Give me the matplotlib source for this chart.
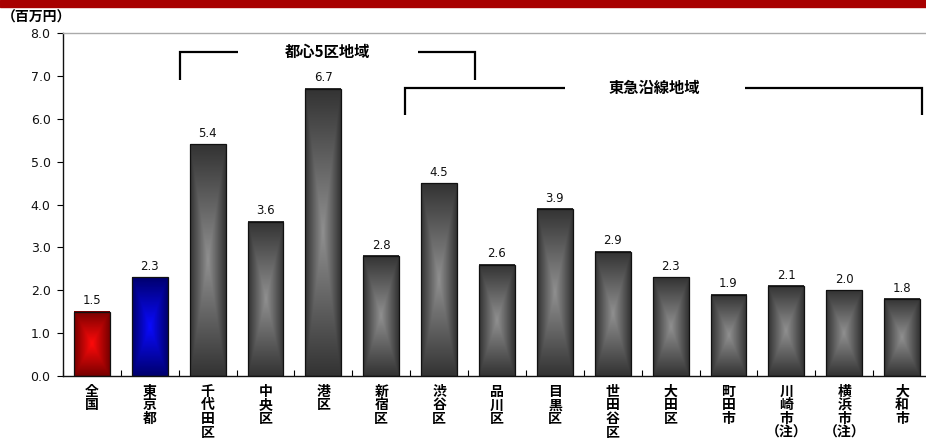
import numpy as np
import matplotlib
matplotlib.use("Agg")
import matplotlib.pyplot as plt
from matplotlib.colors import to_rgb

plt.rcParams['font.family'] = ['DejaVu Sans', 'Noto Sans CJK JP']

# データ（百万円）
categories = ['全国', '東京都', '千代田区', '中央区', '港区', '新宿区', '渋谷区', '品川区',
              '目黒区', '世田谷区', '大田区', '町田市', '川崎市（注）', '横浜市（注）', '大和市']
values = [1.5, 2.3, 5.4, 3.6, 6.7, 2.8, 4.5, 2.6, 3.9, 2.9, 2.3, 1.9, 2.1, 2.0, 1.8]
value_labels = ['1.5', '2.3', '5.4', '3.6', '6.7', '2.8', '4.5', '2.6', '3.9', '2.9',
                '2.3', '1.9', '2.1', '2.0', '1.8']
y_ticks = [0, 1, 2, 3, 4, 5, 6, 7, 8]

# バーの色（中心, 縁）
grey = ('#909090', '#333333')
bar_colors = [('#ff0a0a', '#780000'), ('#0a0aff', '#00006e')] + [grey] * 13

W, H = 926, 446
fig = plt.figure(figsize=(W / 100, H / 100), dpi=100, facecolor='white')

# 上部の赤い帯
fig.add_artist(plt.Rectangle((0, 1 - 7 / H), 1, 7 / H, transform=fig.transFigure,
                             color='#a80000', zorder=0))

ax = fig.add_axes([63 / W, 70 / H, 868 / W, 343 / H])

bw = 0.62
ny, nx = 120, 60
u = np.linspace(-1, 1, nx)
v = np.linspace(-1, 1, ny)
U, V = np.meshgrid(u, v)
T = np.maximum(np.abs(U), np.abs(V))

for i, (val, (c_in, c_out)) in enumerate(zip(values, bar_colors)):
    ci = np.array(to_rgb(c_in))
    co = np.array(to_rgb(c_out))
    img = ci[None, None, :] * (1 - T[..., None]) + co[None, None, :] * T[..., None]
    ax.imshow(img, extent=[i - bw / 2, i + bw / 2, 0, val], aspect='auto',
              interpolation='bilinear', zorder=2)
    ax.text(i, val + 0.1, value_labels[i], ha='center', va='bottom', fontsize=8.5,
            color='#111111', zorder=4)

ax.bar(range(len(values)), values, width=bw, fill=False, edgecolor='#111111',
       linewidth=0.9, zorder=3)

ax.set_xlim(-0.5, len(values) - 0.5)
ax.set_ylim(0, 8)
ax.set_yticks(y_ticks)
ax.set_yticklabels([f'{t:.1f}' for t in y_ticks], fontsize=9, color='#111111')
ax.tick_params(axis='y', direction='out', length=4, width=0.8, pad=5)

# x軸: 区切りに目盛、ラベルは縦書き
ax.set_xticks(np.arange(len(values) + 1) - 0.5)
ax.set_xticklabels([])
ax.tick_params(axis='x', direction='in', length=4, width=0.8)
for i, name in enumerate(categories):
    if '（注）' in name:
        lines = list(name.replace('（注）', '')) + ['（注）']
    else:
        lines = list(name)
    ax.text(i, -0.2, '\n'.join(lines), ha='center', va='top', fontsize=10,
            fontweight='bold', family=['Noto Sans CJK JP', 'DejaVu Sans'],
            linespacing=0.98, clip_on=False)

for s in ['left', 'bottom']:
    ax.spines[s].set_color('#111111')
    ax.spines[s].set_linewidth(1.0)
ax.spines['top'].set_color('#aaaaaa')
ax.spines['top'].set_linewidth(1.0)
ax.spines['right'].set_visible(False)

# 地域のブラケット
def bracket(x0, x1, y, y_low, g0, g1, label):
    kw = dict(color='black', linewidth=1.6, clip_on=False, zorder=5,
              solid_capstyle='butt', solid_joinstyle='miter')
    ax.plot([x0, x0, g0], [y_low, y, y], **kw)
    ax.plot([g1, x1, x1], [y, y, y_low], **kw)
    ax.text((g0 + g1) / 2, y, label, ha='center', va='center', fontsize=11,
            fontweight='bold', family=['Noto Sans CJK JP', 'DejaVu Sans'], zorder=5)

bracket(1.52, 6.62, 7.56, 6.90, 2.52, 5.63, '都心5区地域')
bracket(5.41, 14.34, 6.72, 6.09, 8.17, 11.28, '東急沿線地域')

fig.text(2 / W, 1 - 18 / H, '（百万円）', ha='left', va='center', fontsize=10,
         fontweight='bold', family=['Noto Sans CJK JP', 'DejaVu Sans'])

fig.savefig('out.png', dpi=100, facecolor='white')
